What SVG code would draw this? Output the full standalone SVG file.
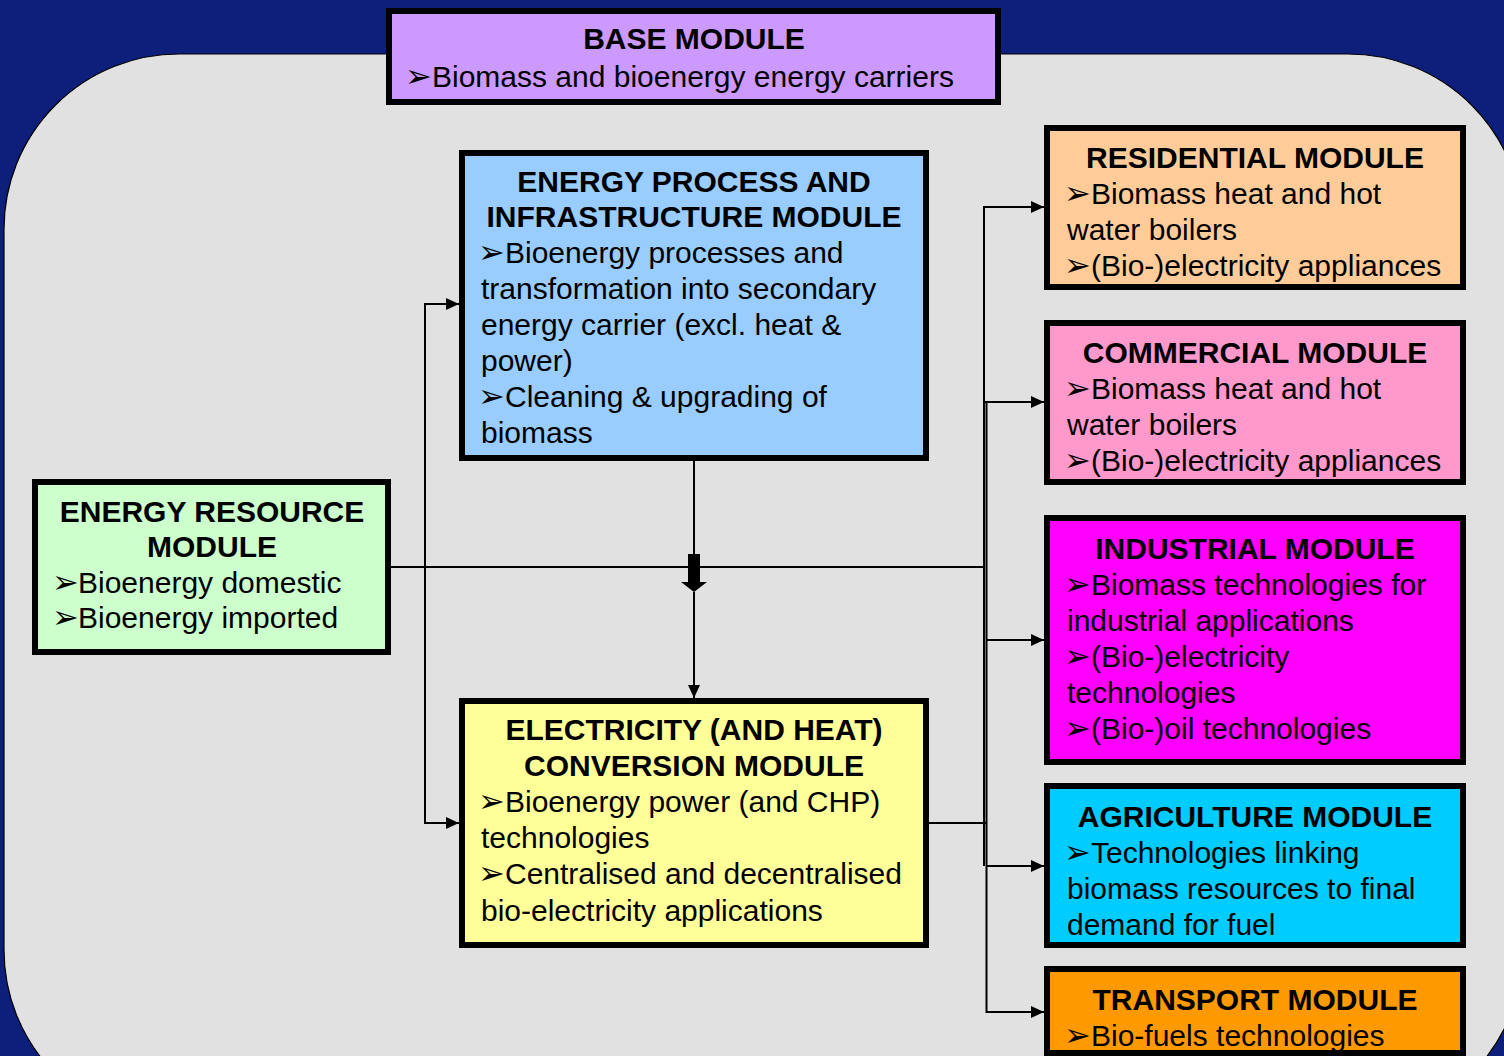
<svg xmlns="http://www.w3.org/2000/svg" width="1504" height="1056" viewBox="0 0 1504 1056">
<style>
text{font-family:"Liberation Sans","DejaVu Sans",Arial,sans-serif;font-size:30px;fill:#000}
.t{font-weight:bold;text-anchor:middle}
.box{stroke:#000;stroke-width:6}
.ln{fill:none;stroke:#000;stroke-width:2}
.bu{font-family:"DejaVu Sans",sans-serif;font-size:32px}
</style>
<defs>
<marker id="ah" markerWidth="13" markerHeight="12" refX="13" refY="6" orient="auto" markerUnits="userSpaceOnUse">
<path d="M0,0 L13,6 L0,12 z" fill="#000"/>
</marker>
</defs>
<rect x="0" y="0" width="1504" height="1056" fill="#0D1F7B"/>
<rect x="4" y="54" width="1519" height="1071" rx="175" ry="175" fill="#E1E1E1" stroke="#000" stroke-width="1.2"/>

<g id="connectors">
<path class="ln" d="M391,567 H984"/>
<path class="ln" d="M425,567 V304 H459" marker-end="url(#ah)"/>
<path class="ln" d="M425,567 V823 H459" marker-end="url(#ah)"/>
<path class="ln" d="M694,461 V556"/>
<polygon points="688,554 700,554 700,582 707,582 694,592 681,582 688,582" fill="#000"/>
<path class="ln" d="M694,592 V698" marker-end="url(#ah)"/>
<path class="ln" d="M984,866 V207 H1044" marker-end="url(#ah)"/>
<path class="ln" d="M929,823 H987"/>
<path class="ln" d="M986.5,402 V1012 H1044" marker-end="url(#ah)"/>
<path class="ln" d="M984,402 H1044" marker-end="url(#ah)"/>
<path class="ln" d="M986,640 H1044" marker-end="url(#ah)"/>
<path class="ln" d="M986,866 H1044" marker-end="url(#ah)"/>
</g>

<g id="base">
<rect class="box" x="389" y="11" width="609" height="91" fill="#CC99FF"/>
<text class="t" x="694" y="49">BASE MODULE</text>
<text y="87"><tspan class="bu" x="405">➢</tspan><tspan x="432">Biomass and bioenergy energy carriers</tspan></text>
</g>

<g id="energy-process">
<rect class="box" x="462" y="153" width="464" height="305" fill="#99CCFF"/>
<text class="t" x="694" y="191.5">ENERGY PROCESS AND</text>
<text class="t" x="694" y="227">INFRASTRUCTURE MODULE</text>
<text y="262.5"><tspan class="bu" x="478">➢</tspan><tspan x="505">Bioenergy processes and</tspan></text>
<text x="481" y="298.5">transformation into secondary</text>
<text x="481" y="334.5">energy carrier (excl. heat &amp;</text>
<text x="481" y="370.5">power)</text>
<text y="406.5"><tspan class="bu" x="478">➢</tspan><tspan x="505">Cleaning &amp; upgrading of</tspan></text>
<text x="481" y="442.5">biomass</text>
</g>

<g id="energy-resource">
<rect class="box" x="35" y="482" width="353" height="170" fill="#CCFFCC"/>
<text class="t" x="212" y="522">ENERGY RESOURCE</text>
<text class="t" x="212" y="557">MODULE</text>
<text y="592.5"><tspan class="bu" x="52">➢</tspan><tspan x="78">Bioenergy domestic</tspan></text>
<text y="628"><tspan class="bu" x="52">➢</tspan><tspan x="78">Bioenergy imported</tspan></text>
</g>

<g id="electricity">
<rect class="box" x="462" y="701" width="464" height="244" fill="#FFFF99"/>
<text class="t" x="694" y="739.5">ELECTRICITY (AND HEAT)</text>
<text class="t" x="694" y="775.5">CONVERSION MODULE</text>
<text y="811.5"><tspan class="bu" x="478">➢</tspan><tspan x="505">Bioenergy power (and CHP)</tspan></text>
<text x="481" y="848">technologies</text>
<text y="884"><tspan class="bu" x="478">➢</tspan><tspan x="505">Centralised and decentralised</tspan></text>
<text x="481" y="920.5">bio-electricity applications</text>
</g>

<g id="residential">
<rect class="box" x="1047" y="128" width="416" height="159" fill="#FFCC99"/>
<text class="t" x="1255" y="168">RESIDENTIAL MODULE</text>
<text y="203.5"><tspan class="bu" x="1064">➢</tspan><tspan x="1091">Biomass heat and hot</tspan></text>
<text x="1067" y="240">water boilers</text>
<text y="276"><tspan class="bu" x="1064">➢</tspan><tspan x="1091">(Bio-)electricity appliances</tspan></text>
</g>

<g id="commercial">
<rect class="box" x="1047" y="323" width="416" height="159" fill="#FF99CC"/>
<text class="t" x="1255" y="363">COMMERCIAL MODULE</text>
<text y="399"><tspan class="bu" x="1064">➢</tspan><tspan x="1091">Biomass heat and hot</tspan></text>
<text x="1067" y="435">water boilers</text>
<text y="471"><tspan class="bu" x="1064">➢</tspan><tspan x="1091">(Bio-)electricity appliances</tspan></text>
</g>

<g id="industrial">
<rect class="box" x="1047" y="518" width="416" height="244" fill="#FF00FF"/>
<text class="t" x="1255" y="559">INDUSTRIAL MODULE</text>
<text y="595"><tspan class="bu" x="1064">➢</tspan><tspan x="1091">Biomass technologies for</tspan></text>
<text x="1067" y="631">industrial applications</text>
<text y="667"><tspan class="bu" x="1064">➢</tspan><tspan x="1091">(Bio-)electricity</tspan></text>
<text x="1067" y="703">technologies</text>
<text y="739"><tspan class="bu" x="1064">➢</tspan><tspan x="1091">(Bio-)oil technologies</tspan></text>
</g>

<g id="agriculture">
<rect class="box" x="1047" y="786" width="416" height="159" fill="#00CCFF"/>
<text class="t" x="1255" y="827">AGRICULTURE MODULE</text>
<text y="863"><tspan class="bu" x="1064">➢</tspan><tspan x="1091">Technologies linking</tspan></text>
<text x="1067" y="899">biomass resources to final</text>
<text x="1067" y="935">demand for fuel</text>
</g>

<g id="transport">
<rect class="box" x="1047" y="969" width="416" height="84" fill="#FF9900"/>
<text class="t" x="1255" y="1010">TRANSPORT MODULE</text>
<text y="1046"><tspan class="bu" x="1064">➢</tspan><tspan x="1091">Bio-fuels technologies</tspan></text>
</g>
</svg>
